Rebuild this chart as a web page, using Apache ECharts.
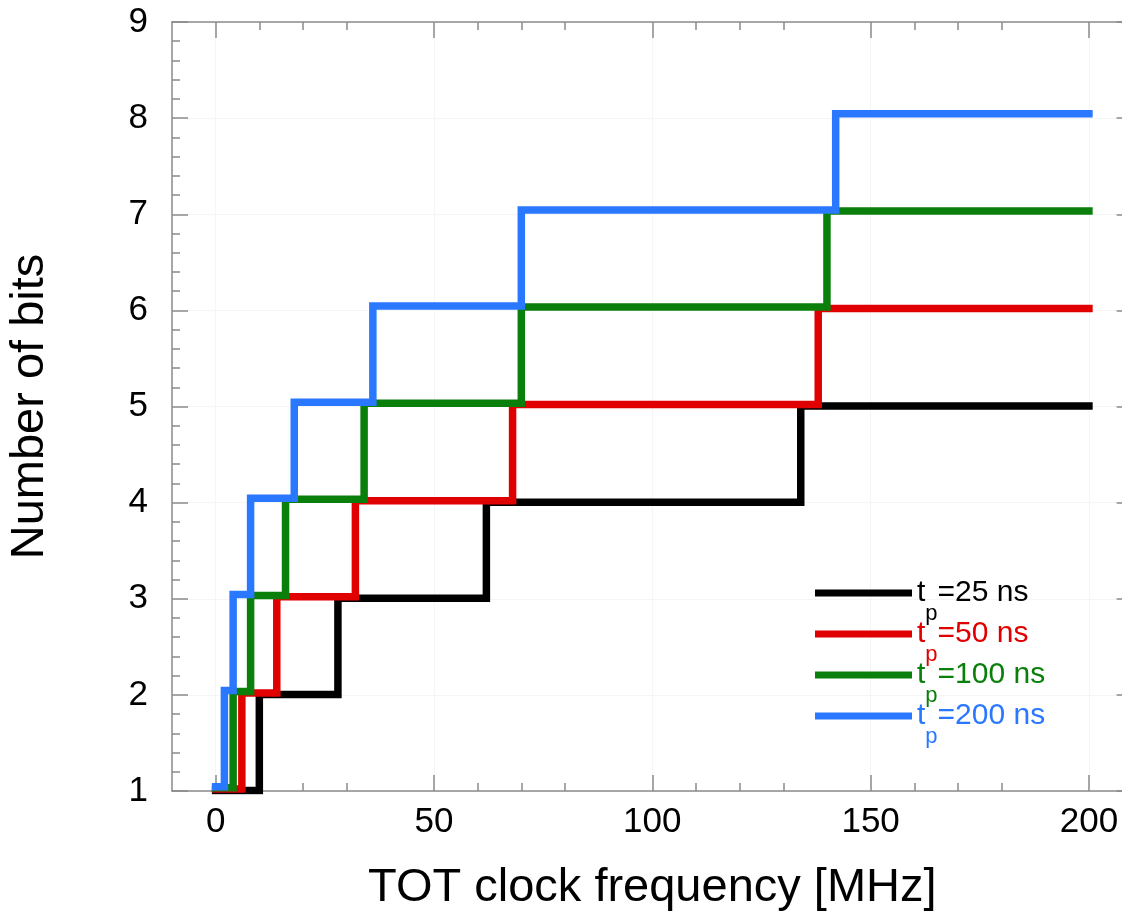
<!DOCTYPE html>
<html>
<head>
<meta charset="utf-8">
<title>Number of bits vs TOT clock frequency</title>
<script src="https://cdn.jsdelivr.net/npm/echarts@6/dist/echarts.min.js"></script>
<style>
  html, body { margin: 0; padding: 0; background: #fff; }
  #chart { width: 1122px; height: 912px; }
</style>
</head>
<body>
<div id="chart"></div>
<script>
// peaking times (legend)
const peakTimes = ['25 ns', '50 ns', '100 ns', '200 ns'];

// TOT clock frequency (MHz) at which one more bit is gained, last value = end of range
const freqTp25 = [0, 10, 28, 62, 134, 200];
const freqTp50 = [0, 6, 14, 32, 68, 138, 200];
const freqTp100 = [0, 4, 8, 16, 34, 70, 140, 200];
const freqTp200 = [0, 2, 4, 8, 18, 36, 70, 142, 200];

// number of bits from each of those frequencies on
const bitsTp25 = [1, 2, 3, 4, 5, 5];
const bitsTp50 = [1, 2, 3, 4, 5, 6, 6];
const bitsTp100 = [1, 2, 3, 4, 5, 6, 7, 7];
const bitsTp200 = [1, 2, 3, 4, 5, 6, 7, 8, 8];

// axis ticks
const xTicks = [0, 50, 100, 150, 200];
const yTicks = [1, 2, 3, 4, 5, 6, 7, 8, 9];

// styling
const colors = ['#000000', '#e00000', '#0b7f0b', '#2a78ff'];
const yNudge = [0.005, 0.02, 0.035, 0.045]; // small lift so overlapping steps stay visible
const FONT = '"Liberation Sans", Arial, Helvetica, sans-serif';

const freqs = [freqTp25, freqTp50, freqTp100, freqTp200];
const bits = [bitsTp25, bitsTp50, bitsTp100, bitsTp200];

const chart = echarts.init(document.getElementById('chart'));

const axisLineStyle = { color: '#8a8a8a', width: 1.5 };
const gridLine = { show: true, lineStyle: { color: '#f5f5f5', width: 1 } };

const xBase = {
  type: 'value',
  min: -10,
  max: 210,
  interval: 50,
  axisLine: { show: true, onZero: false, lineStyle: axisLineStyle },
  axisTick: { show: true, inside: true, length: 16, lineStyle: axisLineStyle,
    customValues: xTicks },
  minorTick: { show: true, splitNumber: 5, length: 8, lineStyle: axisLineStyle },
  splitLine: { show: false }
};
const yBase = {
  type: 'value',
  min: yTicks[0],
  max: yTicks[yTicks.length - 1],
  interval: 1,
  axisLine: { show: true, onZero: false, lineStyle: axisLineStyle },
  axisTick: { show: true, inside: true, length: 16, lineStyle: axisLineStyle },
  minorTick: { show: true, splitNumber: 5, length: 8, lineStyle: axisLineStyle },
  splitLine: { show: false }
};

const series = peakTimes.map((name, k) => ({
  name: name,
  type: 'line',
  step: 'end',
  showSymbol: false,
  xAxisIndex: 0,
  yAxisIndex: 0,
  data: freqs[k].map((f, i) => [f, bits[k][i] + yNudge[k]]),
  lineStyle: { color: colors[k], width: 7.5, cap: 'square', join: 'miter' },
  itemStyle: { color: colors[k] },
  z: 2 + k,
  silent: true,
  animation: false
}));

const option = {
  backgroundColor: '#fff',
  animation: false,
  grid: {
    left: 172, top: 22, bottom: 121, width: 960.6,
    containLabel: false, outerBoundsMode: 'none'
  },
  xAxis: [
    Object.assign({}, xBase, {
      position: 'bottom',
      axisLabel: {
        show: true, fontSize: 35, color: '#000', fontFamily: FONT, margin: 14,
        customValues: xTicks
      },
      splitLine: gridLine,
      name: 'TOT clock frequency [MHz]',
      nameLocation: 'middle',
      nameGap: 74,
      nameTextStyle: { fontSize: 47, color: '#000', fontFamily: FONT }
    }),
    Object.assign({}, xBase, { position: 'top', axisLabel: { show: false } })
  ],
  yAxis: [
    Object.assign({}, yBase, {
      position: 'left',
      axisLabel: { show: true, fontSize: 35, color: '#000', fontFamily: FONT, margin: 24 },
      splitLine: gridLine,
      name: 'Number of bits',
      nameLocation: 'middle',
      nameGap: 118,
      nameTextStyle: { fontSize: 47, color: '#000', fontFamily: FONT }
    }),
    Object.assign({}, yBase, { position: 'right', axisLabel: { show: false } })
  ],
  legend: {
    orient: 'vertical',
    left: 815,
    top: 561,
    padding: 0,
    itemWidth: 97,
    itemHeight: 7,
    itemGap: -23,
    icon: 'rect',
    selectedMode: false,
    data: peakTimes.map((name, k) => ({ name: name, textStyle: { color: colors[k] } })),
    formatter: name => '{t|t}{p|p}{v|=' + name + '}',
    textStyle: {
      fontFamily: FONT,
      fontSize: 30,
      rich: {
        t: { fontSize: 30, lineHeight: 30, fontFamily: FONT },
        p: { fontSize: 22, lineHeight: 22, fontFamily: FONT, padding: [42, 0, 0, 0] },
        v: { fontSize: 30, lineHeight: 30, fontFamily: FONT }
      }
    }
  },
  series: series
};

chart.setOption(option);
</script>
</body>
</html>
